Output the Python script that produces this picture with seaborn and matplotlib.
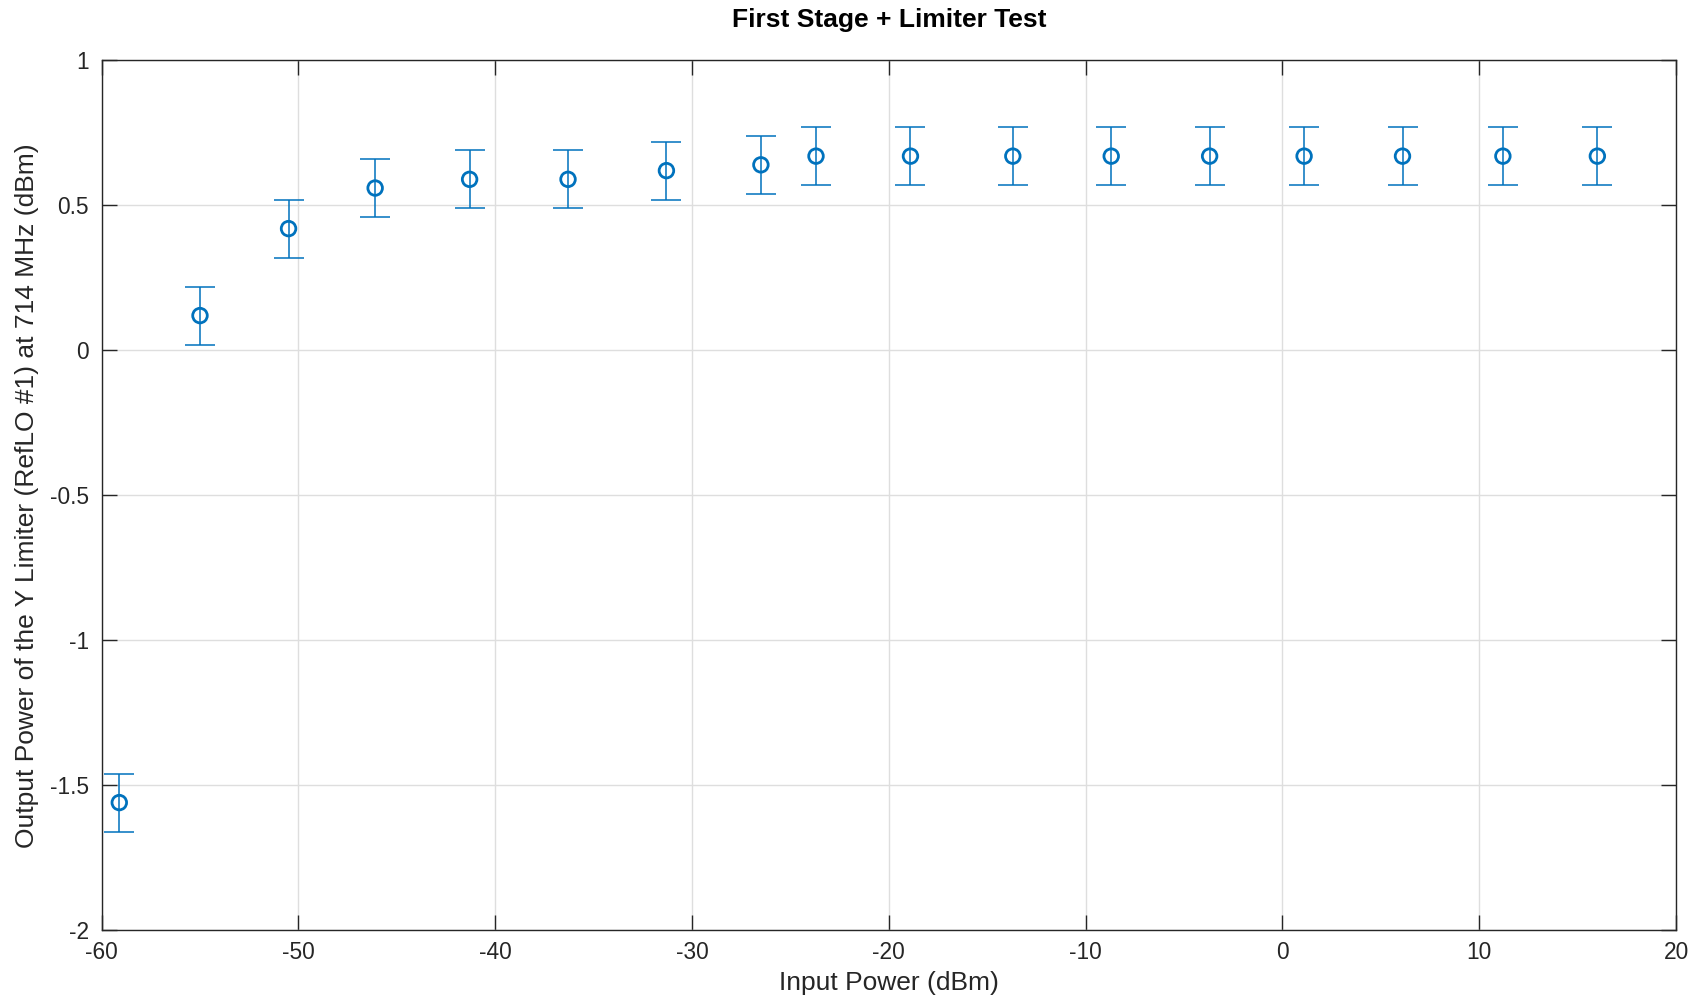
import matplotlib
matplotlib.use("Agg")
import matplotlib.pyplot as plt
import seaborn as sns
import pandas as pd

input_power = [-59.1, -55.0, -50.5, -46.1, -41.3, -36.3, -31.3, -26.5, -23.7,
               -18.9, -13.7, -8.7, -3.7, 1.1, 6.1, 11.2, 16.0]
output_power = [-1.56, 0.12, 0.42, 0.56, 0.59, 0.59, 0.62, 0.64, 0.67,
                0.67, 0.67, 0.67, 0.67, 0.67, 0.67, 0.67, 0.67]
error = [0.1] * len(input_power)

x_ticks = [-60, -50, -40, -30, -20, -10, 0, 10, 20]
y_ticks = [-2, -1.5, -1, -0.5, 0, 0.5, 1]
y_tick_labels = ["-2", "-1.5", "-1", "-0.5", "0", "0.5", "1"]

df = pd.DataFrame({"x": input_power, "y": output_power, "err": error})

sns.set_theme(style="white")
plt.rcParams["font.family"] = ["Liberation Sans", "DejaVu Sans"]

color = "#0072BD"
axis_col = "#262626"

fig = plt.figure(figsize=(16.93, 9.98), dpi=100)
ax = fig.add_axes([0.060, 0.068, 0.930, 0.8714])

ax.errorbar(df["x"], df["y"], yerr=df["err"], fmt="none", ecolor=color,
            elinewidth=1.1, capsize=10.7, capthick=1.1, zorder=3)
sns.scatterplot(data=df, x="x", y="y", ax=ax, marker="o", s=110,
                facecolors="none", edgecolor=color, linewidth=2.0, zorder=4)

ax.set_xlim(-60, 20)
ax.set_ylim(-2, 1)
ax.set_xticks(x_ticks)
ax.set_xticklabels([str(t) for t in x_ticks])
ax.set_yticks(y_ticks)
ax.set_yticklabels(y_tick_labels)

ax.grid(True, color="#dedede", linewidth=1.0)
ax.set_axisbelow(True)
for s in ax.spines.values():
    s.set_color(axis_col)
    s.set_linewidth(1.0)
    s.set_visible(True)

ax.tick_params(axis="both", direction="in", length=11, width=1.0, colors=axis_col,
               labelsize=16.4, top=True, right=True, bottom=True, left=True)
ax.tick_params(axis="x", pad=8)
ax.tick_params(axis="y", pad=9)

ax.set_xlabel("Input Power (dBm)", fontsize=19, color=axis_col, labelpad=5)
ax.set_ylabel("Output Power of the Y Limiter (RefLO #1) at 714 MHz (dBm)",
              fontsize=19, color=axis_col, labelpad=8)
ax.set_title("First Stage + Limiter Test", fontsize=19, fontweight="bold",
             color="black", pad=24)

fig.savefig("out.png", dpi=100)
